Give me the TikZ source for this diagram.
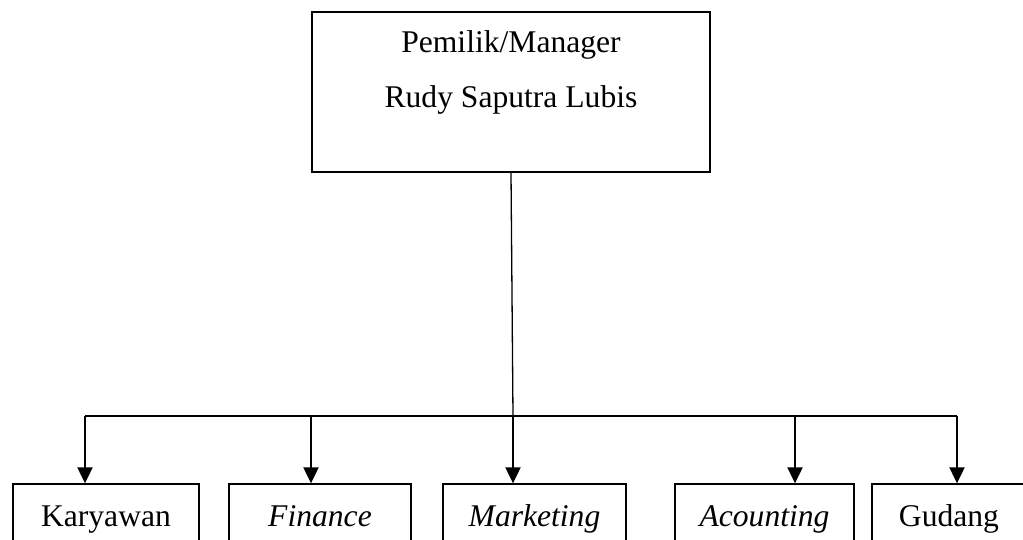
\documentclass[tikz,border=0pt]{standalone}
\usepackage{fontspec}
\setmainfont{Liberation Serif}
\usepackage{tikz}
\usetikzlibrary{arrows.meta}

\tikzset{
	unitbox/.style={shape=rectangle, draw, line width=1.3pt, inner sep=0, minimum height=100pt},
	boxtext/.style={font=\fontsize{31.6}{38}\selectfont, inner sep=0, anchor=base},
	drop/.style={line width=2pt, -{Triangle[length=16pt, width=15pt]}}
}

\begin{document}
\begin{tikzpicture}[x=1pt, y=-1pt]
	\useasboundingbox (0, 0) rectangle (1023, 540);
	% Owner box and its two lines of text:
	\node[unitbox, minimum width=398pt, minimum height=160pt] (owner) at (511, 92){};
	\node[boxtext] (ownerRole) at (511, 53){Pemilik/Manager};
	\node[boxtext] (ownerName) at (511, 108){Rudy Saputra Lubis};
	% Units below:
	\node[unitbox, minimum width=186pt] (karyawan) at (106, 534){} node[boxtext] (karyawanText) at (106, 526){Karyawan};
	\node[unitbox, minimum width=182pt] (finance) at (320, 534){} node[boxtext] (financeText) at (320, 526){\itshape Finance};
	\node[unitbox, minimum width=183pt] (marketing) at (534.5, 534){} node[boxtext] (marketingText) at (534.5, 526){\itshape Marketing};
	\node[unitbox, minimum width=179pt] (acounting) at (764.5, 534){} node[boxtext] (acountingText) at (764.5, 526){\itshape Acounting};
	\node[unitbox, minimum width=154pt] (gudang) at (949, 534){} node[boxtext] (gudangText) at (949, 526){Gudang};
	% Bus and wires:
	\coordinate (busK) at (85, 416);
	\coordinate (busF) at (311, 416);
	\coordinate (busM) at (513, 416);
	\coordinate (busA) at (795, 416);
	\coordinate (busG) at (957, 416);
	\draw[line width=1.3pt] (owner.south) -- (busM);
	\draw[line width=1.6pt] (busK) -- (busG);
	\draw[drop] (busK) -- (busK |- karyawan.north);
	\draw[drop] (busF) -- (busF |- finance.north);
	\draw[drop] (busM) -- (busM |- marketing.north);
	\draw[drop] (busA) -- (busA |- acounting.north);
	\draw[drop] (busG) -- (busG |- gudang.north);
\end{tikzpicture}
\end{document}
